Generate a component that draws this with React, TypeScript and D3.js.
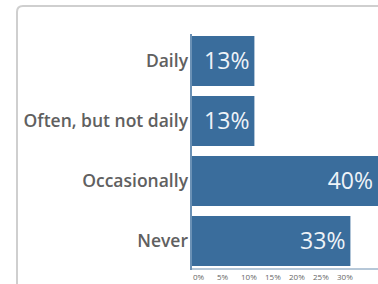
import React from "react";
import * as d3 from "d3";

const categories = ["Daily", "Often, but not daily", "Occasionally", "Never"];
const values = [13, 13, 40, 33];
const tickValues = [0, 5, 10, 15, 20, 25, 30];

export default function App() {
  const W = 378, H = 284;
  const x = d3.scaleLinear().domain([0, 40]).range([192, 384]);
  const y = d3.scaleBand<string>().domain(categories).range([26, 276]).paddingInner(1 / 6).paddingOuter(1 / 6);
  const font = "'Open Sans', 'Noto Sans', sans-serif";
  return (
    <svg width={W} height={H} style={{ position: "absolute", left: 0, top: 0, background: "#fff" }}>
      <path d="M17,284 L17,12 Q17,6 23,6 L378,6" fill="none" stroke="#cfcfcf" strokeWidth={2} />
      {categories.map((c, i) => (
        <g key={c}>
          <rect x={x(0)} y={y(c)} width={x(values[i]) - x(0)} height={y.bandwidth()} fill="#3a6d9c" />
          <text x={188} y={(y(c) as number) + y.bandwidth() / 2} dy="0.35em" textAnchor="end"
            fontFamily={font} fontSize={17.5} fontWeight={600} fill="#606060">{c}</text>
          <text x={Math.min(x(values[i]) - 5, W - 5)} y={(y(c) as number) + y.bandwidth() / 2} dy="0.36em" textAnchor="end"
            fontFamily={font} fontSize={23} fill="#eef3f8">{values[i]}%</text>
        </g>
      ))}
      <line x1={191} x2={191} y1={34} y2={270} stroke="#3a6d9c" strokeWidth={1.5} />
      <line x1={191} x2={378} y1={269} y2={269} stroke="#6d8fb0" strokeWidth={1} />
      {tickValues.map(t => (
        <text key={t} x={x(t) + 1} y={280} fontFamily={font} fontSize={8} fill="#666">{t}%</text>
      ))}
    </svg>
  );
}
